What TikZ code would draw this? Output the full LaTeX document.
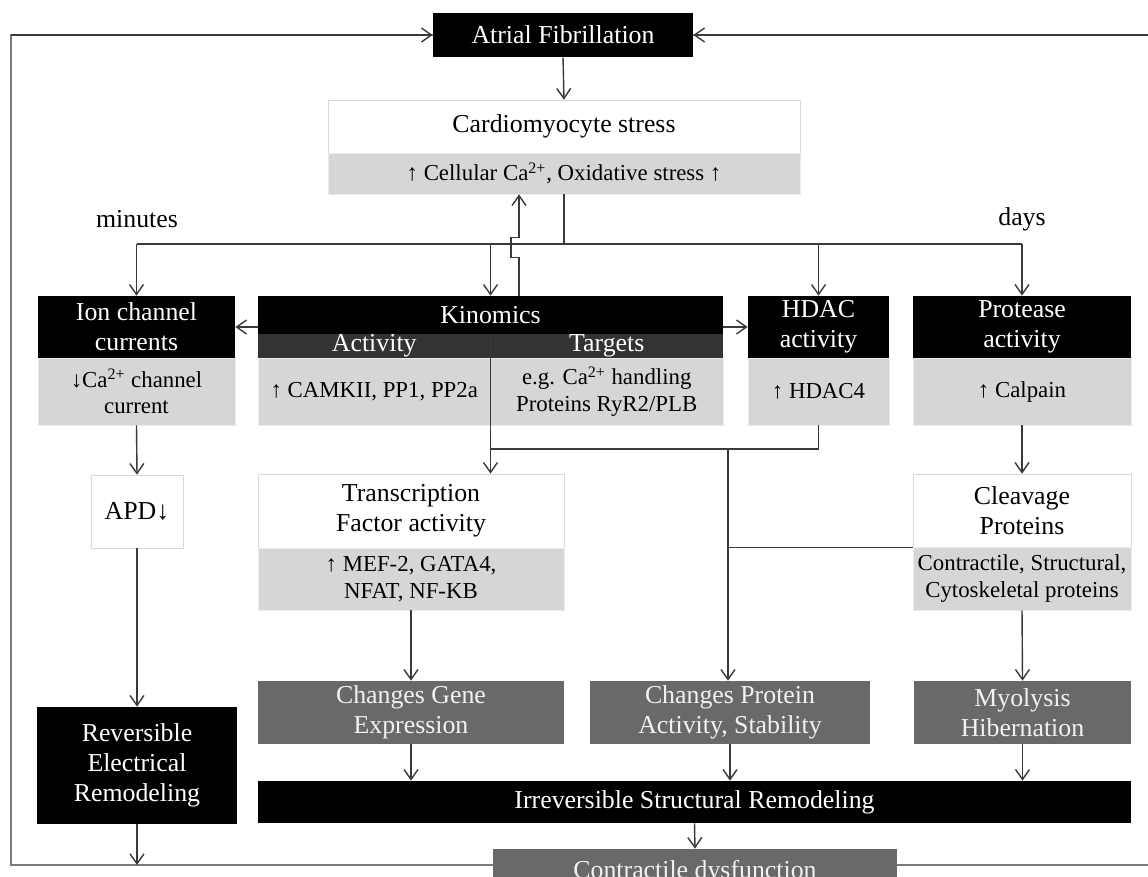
\documentclass[tikz,border=0pt]{standalone}
\usepackage{fontspec}
\setmainfont{Liberation Serif}
\usetikzlibrary{positioning,arrows.meta,calc}
\definecolor{lgry}{HTML}{D6D6D6}
\definecolor{mgry}{HTML}{696969}
\definecolor{bandc}{HTML}{333333}
\definecolor{linec}{HTML}{3A3A3A}
\definecolor{loopc}{HTML}{7A7A7A}
\newcommand\bigf{\fontsize{14.7}{17.2}\selectfont}
\newcommand\smf{\fontsize{13}{15.3}\selectfont}
\tikzset{
  sz/.style 2 args={minimum width=#1*0.02cm,minimum height=#2*0.02cm},
  hdr/.style={fill=black,text=white,inner sep=0pt,align=center,font=\bigf},
  bandbox/.style={fill=bandc,text=white,inner sep=0pt,align=center,font=\bigf},
  gbox/.style={fill=lgry,draw=black!8,inner sep=0pt,align=center,font=\smf},
  wbox/.style={fill=white,draw=black!15,inner sep=0pt,align=center,font=\bigf},
  mbox/.style={fill=mgry,text=black!5,inner sep=0pt,align=center,font=\bigf},
  ln/.style={line width=0.8pt,linec},
  arr/.style={ln,-{Straight Barb[length=2mm,width=2.8mm]}},
  lp/.style={line width=1.4pt,loopc},
}
\begin{document}
\begin{tikzpicture}[x=0.02cm,y=-0.02cm]
  \clip (0,0) rectangle (1148,876);
  % top
  \node[hdr,sz={260}{44}] (af) at (563,35) {Atrial Fibrillation};
  \node[wbox,sz={472}{53}] (cs) at (564,126.5) {Cardiomyocyte stress};
  \node[gbox,sz={472}{41}] (css) at (564,173.5) {↑ Cellular Ca\textsuperscript{2+}, Oxidative stress ↑};
  \node[font=\bigf] (mins) at (137,219) {minutes};
  \node[font=\bigf] (days) at (1022,219) {days};
  % second row
  \node[hdr,sz={197}{62}] (ion) at (136.5,327) {Ion channel\\currents};
  \node[gbox,sz={197}{67}] (ions) at (136.5,391.5) {↓Ca\textsuperscript{2+} channel\\current};
  \node[hdr,sz={465}{38}] (kin) at (490.5,315) {Kinomics};
  \node[bandbox,sz={232.5}{24}] (kinact) at (374.25,346) {Activity};
  \node[bandbox,sz={232.5}{24}] (kintgt) at (606.75,346) {Targets};
  \node[gbox,sz={232.5}{67}] (kinacts) at (374.25,391.5) {↑ CAMKII, PP1, PP2a};
  \node[gbox,sz={232.5}{67}] (kintgts) at (606.75,391.5) {e.g. Ca\textsuperscript{2+} handling\\Proteins RyR2/PLB};
  \node[hdr,sz={141}{62}] (hdac) at (818.5,327) {HDAC\\activity};
  \node[gbox,sz={141}{67}] (hdacs) at (818.5,391.5) {↑ HDAC4};
  \node[hdr,sz={218}{62}] (pro) at (1022,327) {Protease\\activity};
  \node[gbox,sz={218}{67}] (pros) at (1022,391.5) {↑ Calpain};
  % third row
  \node[wbox,sz={92}{73}] (apd) at (137,511.5) {APD↓};
  \node[wbox,sz={306}{74}] (tf) at (411,511) {Transcription\\Factor activity};
  \node[gbox,sz={306}{62}] (tfs) at (411,579) {↑ MEF-2, GATA4,\\NFAT, NF-KB};
  \node[wbox,sz={218}{73}] (clv) at (1022,510.5) {Cleavage\\Proteins};
  \node[gbox,sz={218}{63}] (clvs) at (1022,578.5) {Contractile, Structural,\\Cytoskeletal proteins};
  % fourth row
  \node[hdr,sz={200}{117}] (rev) at (137,765.5) {Reversible\\Electrical\\Remodeling};
  \node[mbox,sz={306}{63}] (gene) at (411,712.5) {Changes Gene\\Expression};
  \node[mbox,sz={280}{63}] (prot) at (730,712.5) {Changes Protein\\Activity, Stability};
  \node[mbox,sz={217}{63}] (myo) at (1022.5,712.5) {Myolysis\\Hibernation};
  \node[hdr,sz={873}{42}] (irr) at (694.5,802) {Irreversible Structural Remodeling};
  \node[mbox,sz={404}{46}] (ctr) at (695,872) {Contractile dysfunction};
  % feedback loop
  \coordinate (bl) at (11,865);
  \coordinate (br) at (1160,865);
  \draw[lp] (ctr.west |- bl) -- (bl) |- (af.west);
  \draw[lp] (ctr.east |- br) -- (br) |- (af.east);
  \draw[arr] (bl |- af.west) -- (af.west);
  \draw[arr] (br |- af.east) -- (af.east);
  % stress and its branches
  \coordinate (bus) at (564,244);
  \draw[arr] (af.south) -- (cs.north);
  \draw[ln] (css.south) -- (bus);
  \draw[ln] (ion.north |- bus) -- (pro.north |- bus);
  \foreach \n in {ion,kin,hdac,pro}
    \draw[arr] (\n.north |- bus) -- (\n.north);
  \coordinate (up0) at ($(kin.north)+(28.5,0)$);
  \draw[arr] (up0) -- ++(0,-38) -- ++(-8,0) -- ++(0,-20) -- ++(8,0) -- (up0 |- css.south);
  \draw[arr] (ion.east -| kin.west) -- (ion.east);
  \draw[arr] (hdac.west -| kin.east) -- (hdac.west);
  % downstream
  \coordinate (jn) at (728,449);
  \draw[ln] (hdacs.south) |- (jn) -- (kin.south |- jn);
  \draw[arr] (kin.south) -- (kin.south |- tf.north);
  \draw[ln] (clv.south west) -- (jn |- clv.south);
  \draw[arr] (jn) -- (jn |- prot.north);
  \draw[arr] (ions.south) -- (apd.north);
  \draw[arr] (apd.south) -- (rev.north);
  \draw[arr] (pros.south) -- (clv.north);
  \draw[arr] (tfs.south) -- (gene.north);
  \draw[arr] (clvs.south) -- (myo.north);
  \foreach \n in {gene,prot,myo}
    \draw[arr] (\n.south) -- (\n.south |- irr.north);
  \draw[arr] (irr.south) -- (ctr.north);
  \draw[arr] (rev.south) -- (rev.south |- bl);
\end{tikzpicture}
\end{document}
